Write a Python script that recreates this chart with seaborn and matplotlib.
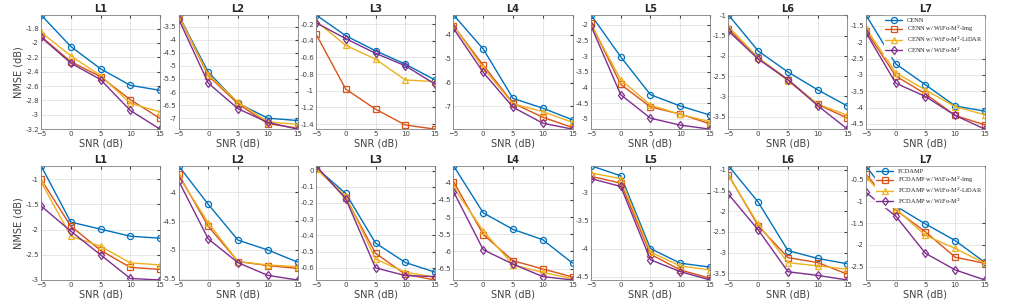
import numpy as np
import pandas as pd
import seaborn as sns
import matplotlib.pyplot as plt
from matplotlib.ticker import MultipleLocator, FormatStrFormatter

snr = [-5, 0, 5, 10, 15]
panels = ["L1", "L2", "L3", "L4", "L5", "L6", "L7"]

# top row: CENN family
cenn_base = {
    "L1": [-1.61, -2.05, -2.36, -2.59, -2.66],
    "L2": [-3.05, -5.24, -6.43, -7.00, -7.09],
    "L3": [-0.09, -0.34, -0.52, -0.68, -0.87],
    "L4": [-3.16, -4.59, -6.66, -7.07, -7.56],
    "L5": [-1.68, -3.02, -4.23, -4.59, -4.88],
    "L6": [-0.99, -1.88, -2.40, -2.84, -3.24],
    "L7": [-1.16, -2.66, -3.30, -3.95, -4.11],
}
cenn_img = {
    "L1": [-1.91, -2.26, -2.47, -2.79, -3.05],
    "L2": [-3.07, -5.38, -6.45, -7.21, -7.38],
    "L3": [-0.32, -0.98, -1.22, -1.41, -1.46],
    "L4": [-3.62, -5.27, -6.86, -7.45, -7.88],
    "L5": [-1.95, -3.90, -4.62, -4.85, -5.16],
    "L6": [-1.34, -2.05, -2.59, -3.20, -3.54],
    "L7": [-1.64, -3.03, -3.58, -4.24, -4.53],
}
cenn_lidar = {
    "L1": [-1.85, -2.18, -2.455, -2.84, -2.96],
    "L2": [-3.06, -5.34, -6.39, -7.14, -7.24],
    "L3": [-0.164, -0.455, -0.62, -0.87, -0.89],
    "L4": [-3.60, -5.39, -6.89, -7.21, -7.67],
    "L5": [-1.98, -3.75, -4.56, -4.86, -5.09],
    "L6": [-1.28, -2.05, -2.62, -3.19, -3.47],
    "L7": [-1.57, -2.93, -3.46, -3.97, -4.22],
}
cenn_m2 = {
    "L1": [-1.92, -2.28, -2.51, -2.94, -3.20],
    "L2": [-3.20, -5.66, -6.64, -7.16, -7.42],
    "L3": [-0.184, -0.375, -0.55, -0.70, -0.92],
    "L4": [-3.73, -5.57, -7.03, -7.70, -7.95],
    "L5": [-2.03, -4.23, -4.98, -5.20, -5.33],
    "L6": [-1.39, -2.08, -2.59, -3.23, -3.81],
    "L7": [-1.70, -3.25, -3.66, -4.24, -4.66],
}

# bottom row: FCDAMP family
fcd_base = {
    "L1": [-0.73, -1.85, -1.99, -2.13, -2.17],
    "L2": [-3.54, -4.21, -4.83, -5.00, -5.21],
    "L3": [0.018, -0.141, -0.447, -0.567, -0.627],
    "L4": [-3.51, -4.88, -5.36, -5.66, -6.34],
    "L5": [-2.52, -2.70, -4.00, -4.26, -4.33],
    "L6": [-0.90, -1.78, -2.95, -3.14, -3.27],
    "L7": [-0.19, -1.11, -1.52, -1.90, -2.40],
}
fcd_img = {
    "L1": [-1.00, -1.93, -2.41, -2.75, -2.79],
    "L2": [-3.69, -4.59, -5.20, -5.27, -5.32],
    "L3": [0.02, -0.168, -0.51, -0.64, -0.675],
    "L4": [-3.97, -5.51, -6.27, -6.51, -6.74],
    "L5": [-2.71, -2.83, -4.10, -4.38, -4.53],
    "L6": [-1.12, -2.35, -3.12, -3.24, -3.52],
    "L7": [-0.38, -1.20, -1.70, -2.28, -2.42],
}
fcd_lidar = {
    "L1": [-1.05, -2.13, -2.33, -2.66, -2.70],
    "L2": [-3.72, -4.53, -5.20, -5.26, -5.29],
    "L3": [0.01, -0.157, -0.546, -0.627, -0.658],
    "L4": [-4.14, -5.40, -6.39, -6.61, -6.79],
    "L5": [-2.65, -2.75, -4.06, -4.31, -4.38],
    "L6": [-1.14, -2.31, -3.24, -3.32, -3.40],
    "L7": [-0.45, -1.17, -1.78, -2.08, -2.42],
}
fcd_m2 = {
    "L1": [-1.53, -2.03, -2.50, -2.97, -3.00],
    "L2": [-3.80, -4.81, -5.22, -5.44, -5.52],
    "L3": [0.03, -0.174, -0.60, -0.648, -0.654],
    "L4": [-4.26, -5.95, -6.37, -6.73, -6.83],
    "L5": [-2.75, -2.89, -4.20, -4.41, -4.56],
    "L6": [-1.59, -2.45, -3.46, -3.55, -3.66],
    "L7": [-0.80, -1.34, -2.19, -2.57, -2.80],
}

row1_labels = ["CENN", "CENN w/ WiFo-M$^2$-Img", "CENN w/ WiFo-M$^2$-LiDAR", "CENN w/ WiFo-M$^2$"]
row2_labels = ["FCDAMP", "FCDAMP w/ WiFo-M$^2$-Img", "FCDAMP w/ WiFo-M$^2$-LiDAR", "FCDAMP w/ WiFo-M$^2$"]
row1_steps = [0.2, 0.5, 0.2, 1.0, 0.5, 0.5, 0.5]
row2_steps = [0.5, 0.5, 0.1, 0.5, 0.5, 0.5, 0.5]

colors = ["#0072BD", "#D95319", "#EDB120", "#7E2F8E"]
markers = ["o", "s", "^", "d"]

sns.set_style("white")
plt.rcParams["font.family"] = ["DejaVu Sans"]

fig, axes = plt.subplots(2, 7, figsize=(10.26, 3.04), dpi=100)
fig.subplots_adjust(left=0.040, right=0.960, top=0.951, bottom=0.079,
                    wspace=0.155, hspace=0.32)

rows = [
    ([cenn_base, cenn_img, cenn_lidar, cenn_m2], row1_labels, row1_steps),
    ([fcd_base, fcd_img, fcd_lidar, fcd_m2], row2_labels, row2_steps),
]

for r, (series, labels, steps) in enumerate(rows):
    for c, name in enumerate(panels):
        ax = axes[r, c]
        frames = []
        for k, s in enumerate(series):
            frames.append(pd.DataFrame({"snr": snr, "nmse": s[name], "method": labels[k]}))
        df = pd.concat(frames)
        for k, lab in enumerate(labels):
            sns.lineplot(data=df[df["method"] == lab], x="snr", y="nmse",
                         color=colors[k], marker=markers[k], markersize=4.4,
                         markerfacecolor="none", markeredgecolor=colors[k],
                         markeredgewidth=0.9, linewidth=1.0, label=lab, ax=ax,
                         legend=False)
        ymin = df["nmse"].min()
        ymax = df["nmse"].max()
        ax.set_xlim(-5, 15)
        ax.set_ylim(ymin, ymax)
        ax.set_xticks(snr)
        ax.yaxis.set_major_locator(MultipleLocator(steps[c]))
        ax.yaxis.set_major_formatter(FormatStrFormatter("%g"))
        ax.grid(True, color="#dcdcdc", linewidth=0.5)
        ax.tick_params(direction="in", length=2, labelsize=5, colors="#404040",
                       top=True, right=True, pad=1.5)
        for sp in ax.spines.values():
            sp.set_color("#7f7f7f")
            sp.set_linewidth(0.6)
        ax.set_title(name, fontsize=7, fontweight="bold", pad=2)
        ax.set_xlabel("SNR (dB)", fontsize=7, color="#404040", labelpad=1)
        if c == 0:
            ax.set_ylabel("NMSE (dB)", fontsize=7, color="#404040", labelpad=1)
        else:
            ax.set_ylabel("")
        if c == 6:
            ax.legend(loc="upper right", prop={"family": "Liberation Serif", "size": 4.6},
                      frameon=True, facecolor="white", edgecolor="white",
                      framealpha=1, borderpad=0.2, handlelength=2.6,
                      labelspacing=0.15, borderaxespad=0.2)

fig.savefig("out.png", dpi=100)
